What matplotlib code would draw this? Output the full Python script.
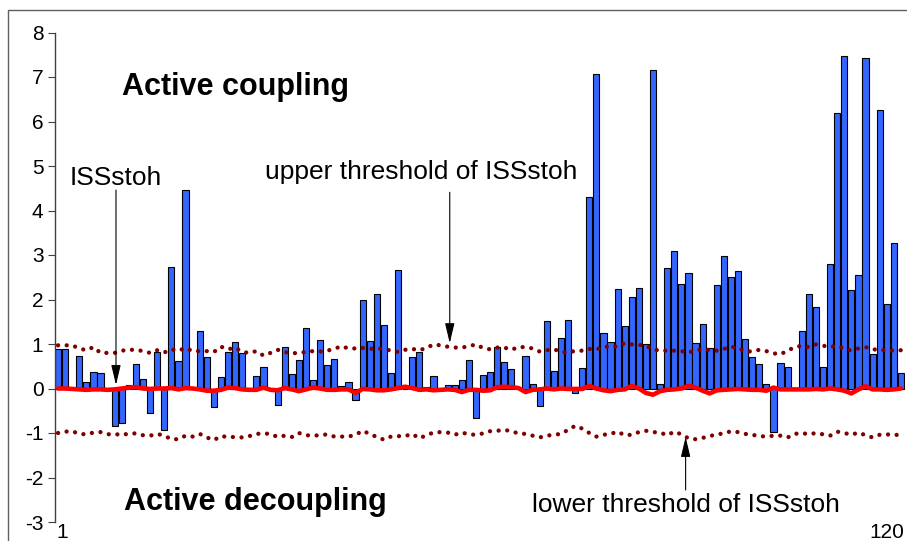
import numpy as np
import matplotlib.pyplot as plt
from matplotlib.patches import Rectangle
from matplotlib.transforms import ScaledTranslation

plt.rcParams['font.family'] = ['Liberation Sans', 'DejaVu Sans']

# observation index 1..120
obs = np.arange(1, 121)
tick_positions = [1, 120]
tick_labels = ['1', '120']

# index values (bars)
index_values = [
    0.88, 0.88, 0.00, 0.73, 0.14, 0.36, 0.34, 0.00, -0.84, -0.78,
    0.07, 0.56, 0.22, -0.55, 0.81, -0.93, 2.73, 0.61, 4.45, 0.00,
    1.30, 0.70, -0.41, 0.25, 0.82, 1.05, 0.79, 0.00, 0.28, 0.48,
    0.00, -0.38, 0.93, 0.33, 0.63, 1.37, 0.20, 1.10, 0.53, 0.66,
    0.06, 0.14, -0.26, 2.00, 1.06, 2.12, 1.42, 0.34, 2.67, 0.00,
    0.71, 0.83, 0.04, 0.28, 0.00, 0.08, 0.08, 0.20, 0.64, -0.66,
    0.31, 0.37, 0.93, 0.60, 0.43, 0.00, 0.73, 0.11, -0.40, 1.51,
    0.39, 1.13, 1.53, -0.11, 0.45, 4.30, 7.07, 1.25, 1.05, 2.24,
    1.40, 2.05, 2.25, 1.00, 7.16, 0.11, 2.71, 3.08, 2.34, 2.60,
    1.02, 1.45, 0.91, 2.33, 2.97, 2.51, 2.63, 1.11, 0.71, 0.55,
    0.11, -0.97, 0.58, 0.49, 0.00, 1.29, 2.13, 1.83, 0.49, 2.79,
    6.19, 7.48, 2.21, 2.55, 7.43, 0.77, 6.25, 1.89, 3.26, 0.35,
]

# ISSstoh (red line)
iss_stoh = [
    0.00, 0.00, -0.01, -0.02, -0.03, -0.02, -0.02, -0.03, -0.02, 0.00,
    0.02, 0.03, 0.00, -0.01, 0.00, 0.00, 0.01, -0.02, 0.01, 0.00,
    -0.02, -0.05, -0.05, -0.03, 0.02, 0.01, -0.02, -0.03, -0.03, 0.02,
    -0.03, -0.04, 0.01, -0.02, -0.06, -0.02, 0.02, 0.00, -0.03, -0.03,
    -0.02, -0.02, -0.10, -0.01, -0.02, -0.04, -0.04, -0.02, 0.01, 0.04,
    0.01, -0.03, -0.02, -0.04, -0.03, -0.02, -0.03, -0.08, -0.03, -0.03,
    -0.05, -0.04, 0.03, 0.04, 0.03, 0.01, -0.08, -0.03, -0.02, 0.00,
    -0.02, 0.00, -0.01, -0.01, -0.01, 0.06, 0.00, -0.04, -0.06, -0.03,
    -0.02, 0.06, 0.00, -0.10, -0.14, -0.06, -0.03, -0.02, 0.00, 0.06,
    0.02, -0.05, -0.11, -0.04, -0.03, -0.02, -0.01, -0.02, -0.03, -0.03,
    -0.05, 0.02, -0.02, -0.02, -0.02, -0.02, -0.02, -0.01, -0.02, 0.00,
    -0.02, -0.05, -0.11, -0.02, 0.05, -0.02, -0.02, -0.03, -0.02, 0.00,
]

# upper threshold of ISSstoh
upper_thr = [
    0.97, 0.97, 0.97, 0.90, 0.86, 0.93, 0.80, 0.80, 0.80, 0.85,
    0.87, 0.87, 0.84, 0.80, 0.86, 0.81, 0.88, 0.85, 0.91, 0.84,
    0.84, 0.84, 0.82, 0.94, 0.88, 0.92, 0.82, 0.80, 0.84, 0.74,
    0.80, 0.87, 0.82, 0.79, 0.80, 0.82, 0.84, 0.83, 0.85, 0.89,
    0.95, 0.90, 0.90, 0.91, 0.89, 0.90, 0.89, 0.85, 0.82, 0.87,
    0.89, 0.86, 0.91, 0.99, 0.97, 0.94, 0.92, 0.92, 0.95, 0.99,
    0.91, 0.88, 0.92, 0.92, 0.87, 0.93, 0.93, 0.90, 0.83, 0.86,
    0.88, 0.83, 0.80, 0.85, 0.85, 0.89, 0.88, 0.93, 0.95, 0.94,
    1.02, 0.99, 0.98, 0.96, 0.88, 0.85, 0.85, 0.85, 0.84, 0.81,
    0.85, 0.89, 0.86, 0.85, 0.89, 0.94, 0.91, 0.84, 0.83, 0.87,
    0.84, 0.79, 0.77, 0.85, 0.93, 0.96, 0.93, 0.99, 0.96, 0.94,
    0.95, 0.90, 0.85, 0.90, 0.93, 0.88, 0.87, 0.86, 0.85, 0.86,
]

# lower threshold of ISSstoh
lower_thr = [
    -1.00, -0.97, -0.96, -1.02, -1.03, -0.99, -0.98, -1.03, -1.02, -1.05,
    -1.01, -1.01, -1.05, -1.06, -1.02, -1.06, -1.14, -1.14, -1.06, -1.08,
    -1.02, -1.10, -1.16, -1.07, -1.09, -1.09, -1.10, -1.07, -1.02, -1.01,
    -1.02, -1.09, -1.06, -1.09, -1.00, -1.05, -1.06, -1.05, -1.03, -1.08,
    -1.08, -1.08, -1.04, -0.95, -1.02, -1.09, -1.15, -1.08, -1.07, -1.07,
    -1.02, -1.12, -1.05, -0.99, -0.98, -0.99, -1.04, -0.99, -1.03, -1.04,
    -1.01, -0.96, -0.95, -0.93, -0.96, -1.01, -1.02, -1.06, -1.10, -1.06,
    -1.04, -1.02, -0.93, -0.84, -0.90, -1.00, -1.08, -1.04, -1.02, -0.97,
    -1.05, -1.04, -0.98, -0.95, -0.98, -0.99, -1.05, -0.97, -1.03, -1.12,
    -1.14, -1.11, -1.07, -1.03, -1.01, -0.96, -0.98, -1.02, -1.04, -1.07,
    -1.08, -1.06, -1.06, -1.10, -1.02, -1.00, -1.03, -1.00, -1.03, -1.06,
    -0.97, -1.00, -1.04, -0.99, -1.05, -1.10, -1.04, -1.03, -1.05, -1.03,
]

W, H = 907, 541
fig = plt.figure(figsize=(W / 100, H / 100), dpi=100)
ax = fig.add_axes([54.5 / W, 19 / H, 850 / W, 489.5 / H])

# outer chart-area frame (runs off the right and bottom edges)
fig.add_artist(Rectangle((8 / W, -0.1), 1.2, (H - 10) / H + 0.1,
                         transform=fig.transFigure, fill=False,
                         ec='#606060', lw=1.0))

ax.bar(obs, index_values, width=0.88, color='#3366FF',
       edgecolor='black', linewidth=0.8, zorder=2)

dots = (0, (0.01, 2.0))
ax.plot(obs, upper_thr, color='#800000', lw=3.1, linestyle=dots,
        dash_capstyle='round', zorder=3)
ax.plot(obs, lower_thr, color='#800000', lw=3.1, linestyle=dots,
        dash_capstyle='round', zorder=3)
ax.plot(obs, iss_stoh, color='#FF0000', lw=3.3, solid_joinstyle='round',
        solid_capstyle='round', zorder=4)

ax.set_xlim(0.5, 120.5)
ax.set_ylim(-3, 8)
ax.set_yticks(range(-3, 9))
ax.set_yticklabels([str(v) for v in range(-3, 9)])
ax.set_xticks(tick_positions)
ax.set_xticklabels(tick_labels)
ax.tick_params(axis='y', direction='out', length=5, width=0.8,
               color='#404040', labelsize=15, pad=3)
ax.tick_params(axis='x', length=0, labelsize=15, pad=1)
for side in ['top', 'right', 'bottom']:
    ax.spines[side].set_visible(False)
ax.spines['left'].set_color('#404040')
ax.spines['left'].set_linewidth(1.0)
ax.patch.set_alpha(0)

# nudge category labels the way the original places them
xlabels = ax.get_xticklabels()
xlabels[0].set_transform(xlabels[0].get_transform() +
                         ScaledTranslation(4 / 100, 0, fig.dpi_scale_trans))
xlabels[1].set_transform(xlabels[1].get_transform() +
                         ScaledTranslation(-14 / 100, 0, fig.dpi_scale_trans))

# labels
ax.text(10.0, 6.77, 'Active coupling', fontsize=22, fontweight='bold',
        va='center', ha='left')
ax.text(10.3, -2.55, 'Active decoupling', fontsize=22, fontweight='bold',
        va='center', ha='left')

arrow = dict(arrowstyle='-|>,head_length=1.22,head_width=0.29',
             color='black', lw=0.8, mutation_scale=10,
             shrinkA=0, shrinkB=0)
ax.text(2.69, 4.73, 'ISSstoh', fontsize=19, va='center', ha='left')
ax.annotate('', xy=(9.18, 0.08), xytext=(9.18, 4.46), arrowprops=arrow)
ax.text(30.2, 4.86, 'upper threshold of ISSstoh', fontsize=19,
        va='center', ha='left')
ax.annotate('', xy=(56.3, 1.02), xytext=(56.3, 4.41), arrowprops=arrow)
ax.text(67.9, -2.62, 'lower threshold of ISSstoh', fontsize=19,
        va='center', ha='left')
ax.annotate('', xy=(89.6, -1.09), xytext=(89.6, -2.28), arrowprops=arrow)

fig.savefig('out.png', dpi=100)
